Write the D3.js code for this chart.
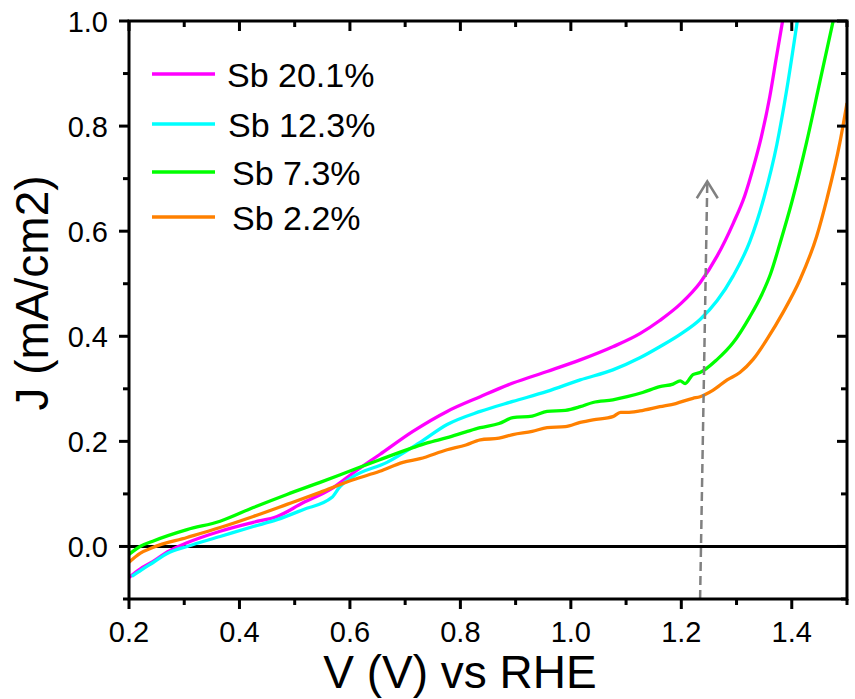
<!DOCTYPE html>
<html>
<head>
<meta charset="utf-8">
<script src="https://cdn.jsdelivr.net/npm/d3@7"></script>
<style>
  html, body { margin: 0; padding: 0; background: #fff; }
  svg { display: block; }
  text { font-family: "Liberation Sans", Arial, sans-serif; fill: #000; }
</style>
</head>
<body>
<svg id="chart" width="855" height="699"></svg>
<script>
// Linear sweep voltammetry: current density vs potential for four Sb contents
const seriesNames = ["Sb 20.1%", "Sb 12.3%", "Sb 7.3%", "Sb 2.2%"];
const seriesColors = ["#ff00ff", "#00ffff", "#00ff00", "#ff8000"];

const sb201V = [0.2, 0.22, 0.243, 0.27, 0.305, 0.365, 0.425, 0.468, 0.515, 0.564, 0.606, 0.654, 0.714, 0.776, 0.836, 0.895, 0.957, 1.017, 1.076, 1.125, 1.161, 1.2, 1.234, 1.265, 1.294, 1.315, 1.33, 1.345, 1.36, 1.372, 1.385];
const sb201J = [-0.059, -0.043, -0.029, -0.01, 0.007, 0.029, 0.046, 0.057, 0.083, 0.108, 0.14, 0.175, 0.219, 0.257, 0.285, 0.311, 0.333, 0.355, 0.38, 0.405, 0.43, 0.463, 0.502, 0.553, 0.615, 0.668, 0.72, 0.78, 0.855, 0.93, 1.01];

const sb123V = [0.205, 0.222, 0.243, 0.27, 0.305, 0.365, 0.425, 0.468, 0.515, 0.567, 0.582, 0.606, 0.667, 0.727, 0.776, 0.836, 0.895, 0.957, 1.017, 1.076, 1.125, 1.161, 1.2, 1.234, 1.265, 1.294, 1.324, 1.35, 1.373, 1.391, 1.41];
const sb123J = [-0.057, -0.045, -0.031, -0.013, 0.0, 0.019, 0.038, 0.051, 0.07, 0.093, 0.114, 0.133, 0.16, 0.198, 0.232, 0.257, 0.276, 0.295, 0.317, 0.336, 0.359, 0.38, 0.405, 0.432, 0.468, 0.515, 0.58, 0.665, 0.765, 0.87, 1.0];

const sb73V = [0.2, 0.22, 0.243, 0.305, 0.365, 0.425, 0.486, 0.546, 0.606, 0.654, 0.714, 0.74, 0.776, 0.81, 0.836, 0.87, 0.895, 0.93, 0.957, 0.99, 1.017, 1.04, 1.076, 1.102, 1.13, 1.161, 1.185, 1.198, 1.207, 1.221, 1.234, 1.265, 1.294, 1.324, 1.346, 1.361, 1.379, 1.40, 1.427, 1.451, 1.477];
const sb73J = [-0.015, 0.0, 0.01, 0.032, 0.048, 0.074, 0.099, 0.122, 0.146, 0.165, 0.188, 0.197, 0.207, 0.218, 0.226, 0.234, 0.245, 0.248, 0.257, 0.259, 0.266, 0.274, 0.279, 0.285, 0.293, 0.304, 0.309, 0.315, 0.31, 0.327, 0.331, 0.356, 0.388, 0.437, 0.48, 0.517, 0.578, 0.655, 0.77, 0.885, 1.01];

const sb22V = [0.2, 0.22, 0.243, 0.305, 0.365, 0.425, 0.486, 0.546, 0.606, 0.654, 0.696, 0.727, 0.776, 0.81, 0.836, 0.87, 0.895, 0.93, 0.957, 0.99, 1.017, 1.04, 1.076, 1.09, 1.102, 1.125, 1.161, 1.19, 1.221, 1.234, 1.257, 1.283, 1.306, 1.33, 1.355, 1.384, 1.415, 1.445, 1.464, 1.487, 1.5];
const sb22J = [-0.03, -0.013, -0.002, 0.017, 0.036, 0.057, 0.08, 0.103, 0.127, 0.143, 0.16, 0.167, 0.184, 0.193, 0.203, 0.206, 0.213, 0.219, 0.226, 0.228, 0.236, 0.241, 0.247, 0.255, 0.255, 0.258, 0.266, 0.272, 0.282, 0.285, 0.297, 0.317, 0.331, 0.356, 0.394, 0.445, 0.508, 0.59, 0.663, 0.768, 0.844];

const seriesV = [sb201V, sb123V, sb73V, sb22V];
const seriesJ = [sb201J, sb123J, sb73J, sb22J];

// Axes
const xDomain = [0.2, 1.5];
const yDomain = [-0.1, 1.0];
const xMajorTicks = [0.2, 0.4, 0.6, 0.8, 1.0, 1.2, 1.4];
const xMinorTicks = [0.3, 0.5, 0.7, 0.9, 1.1, 1.3, 1.5];
const yMajorTicks = [0.0, 0.2, 0.4, 0.6, 0.8, 1.0];
const yMinorTicks = [-0.1, 0.1, 0.3, 0.5, 0.7, 0.9];
const xTitle = "V (V) vs RHE";
const yTitle = "J (mA/cm2)";

// Guide arrow (potential marker)
const arrowV = [1.234, 1.247];
const arrowJ = [-0.1, 0.695];

const svg = d3.select("#chart");
const W = 855, H = 699;
const margin = { left: 129, right: 8, top: 21, bottom: 100 };
const x = d3.scaleLinear().domain(xDomain).range([margin.left, W - margin.right]);
const y = d3.scaleLinear().domain(yDomain).range([H - margin.bottom, margin.top]);

svg.append("defs").append("clipPath").attr("id", "plotClip")
  .append("rect")
  .attr("x", x(xDomain[0])).attr("y", y(yDomain[1]))
  .attr("width", x(xDomain[1]) - x(xDomain[0]))
  .attr("height", y(yDomain[0]) - y(yDomain[1]));

const plot = svg.append("g").attr("clip-path", "url(#plotClip)");

// Zero reference line
plot.append("line")
  .attr("x1", x(xDomain[0])).attr("x2", x(xDomain[1]))
  .attr("y1", y(0)).attr("y2", y(0))
  .attr("stroke", "#000").attr("stroke-width", 3);

// Curves
const line = d3.line().x(d => x(d[0])).y(d => y(d[1])).curve(d3.curveMonotoneX);
seriesNames.forEach((name, i) => {
  const pts = seriesV[i].map((v, k) => [v, seriesJ[i][k]]);
  plot.append("path")
    .datum(pts)
    .attr("d", line)
    .attr("fill", "none")
    .attr("stroke", seriesColors[i])
    .attr("stroke-width", 3.3)
    .attr("stroke-linejoin", "round");
});

// Dashed arrow
const ax0 = x(arrowV[0]), ay0 = y(arrowJ[0]);
const ax1 = x(arrowV[1]), ay1 = y(arrowJ[1]);
svg.append("line")
  .attr("x1", ax0).attr("y1", ay0).attr("x2", ax1).attr("y2", ay1 + 2)
  .attr("stroke", "#808080").attr("stroke-width", 2.5)
  .attr("stroke-dasharray", "9,5");
svg.append("polyline")
  .attr("points", `${ax1 - 10.5},${ay1 + 17} ${ax1},${ay1} ${ax1 + 10.5},${ay1 + 17}`)
  .attr("fill", "none").attr("stroke", "#808080").attr("stroke-width", 2.5);

// Frame
const axisG = svg.append("g").attr("stroke", "#000").attr("stroke-width", 3).attr("stroke-linecap", "square");
const x0 = x(xDomain[0]), x1 = x(xDomain[1]), yb = y(yDomain[0]), yt = y(yDomain[1]);
axisG.append("rect").attr("x", x0).attr("y", yt).attr("width", x1 - x0).attr("height", yb - yt).attr("fill", "none");

// Tick marks: outward on bottom/left, inward on top/right
const tickG = svg.append("g").attr("stroke", "#000").attr("stroke-width", 3);
const majorLen = 10, minorLen = 6;
xMajorTicks.forEach(t => {
  tickG.append("line").attr("x1", x(t)).attr("x2", x(t)).attr("y1", yb).attr("y2", yb + majorLen);
  tickG.append("line").attr("x1", x(t)).attr("x2", x(t)).attr("y1", yt).attr("y2", yt + majorLen);
});
xMinorTicks.forEach(t => {
  tickG.append("line").attr("x1", x(t)).attr("x2", x(t)).attr("y1", yb).attr("y2", yb + minorLen);
  tickG.append("line").attr("x1", x(t)).attr("x2", x(t)).attr("y1", yt).attr("y2", yt + minorLen);
});
yMajorTicks.forEach(t => {
  tickG.append("line").attr("x1", x0).attr("x2", x0 - majorLen).attr("y1", y(t)).attr("y2", y(t));
  tickG.append("line").attr("x1", x1).attr("x2", x1 - majorLen).attr("y1", y(t)).attr("y2", y(t));
});
yMinorTicks.forEach(t => {
  tickG.append("line").attr("x1", x0).attr("x2", x0 - minorLen).attr("y1", y(t)).attr("y2", y(t));
  tickG.append("line").attr("x1", x1).attr("x2", x1 - minorLen).attr("y1", y(t)).attr("y2", y(t));
});

// Tick labels
const fmt = d3.format(".1f");
svg.append("g").selectAll("text").data(xMajorTicks).join("text")
  .attr("x", d => x(d)).attr("y", yb + 43)
  .attr("text-anchor", "middle").attr("font-size", 29)
  .text(d => fmt(d));
svg.append("g").selectAll("text").data(yMajorTicks).join("text")
  .attr("x", x0 - 21).attr("y", d => y(d) + 10.5)
  .attr("text-anchor", "end").attr("font-size", 29)
  .text(d => fmt(d));

// Axis titles
svg.append("text")
  .attr("x", 460).attr("y", 688)
  .attr("text-anchor", "middle").attr("font-size", 46)
  .text(xTitle);
svg.append("text")
  .attr("transform", "translate(48,293) rotate(-90)")
  .attr("text-anchor", "middle").attr("font-size", 46)
  .text(yTitle);

// Legend
const legendY = [74, 124, 172, 217];
const legendTextX = [227, 228, 232, 232];
const legend = svg.append("g");
seriesNames.forEach((name, i) => {
  legend.append("line")
    .attr("x1", 152).attr("x2", 215)
    .attr("y1", legendY[i]).attr("y2", legendY[i])
    .attr("stroke", seriesColors[i]).attr("stroke-width", 3.5);
  legend.append("text")
    .attr("x", legendTextX[i]).attr("y", legendY[i] + 12.5)
    .attr("font-size", 34)
    .text(name);
});
</script>
</body>
</html>
